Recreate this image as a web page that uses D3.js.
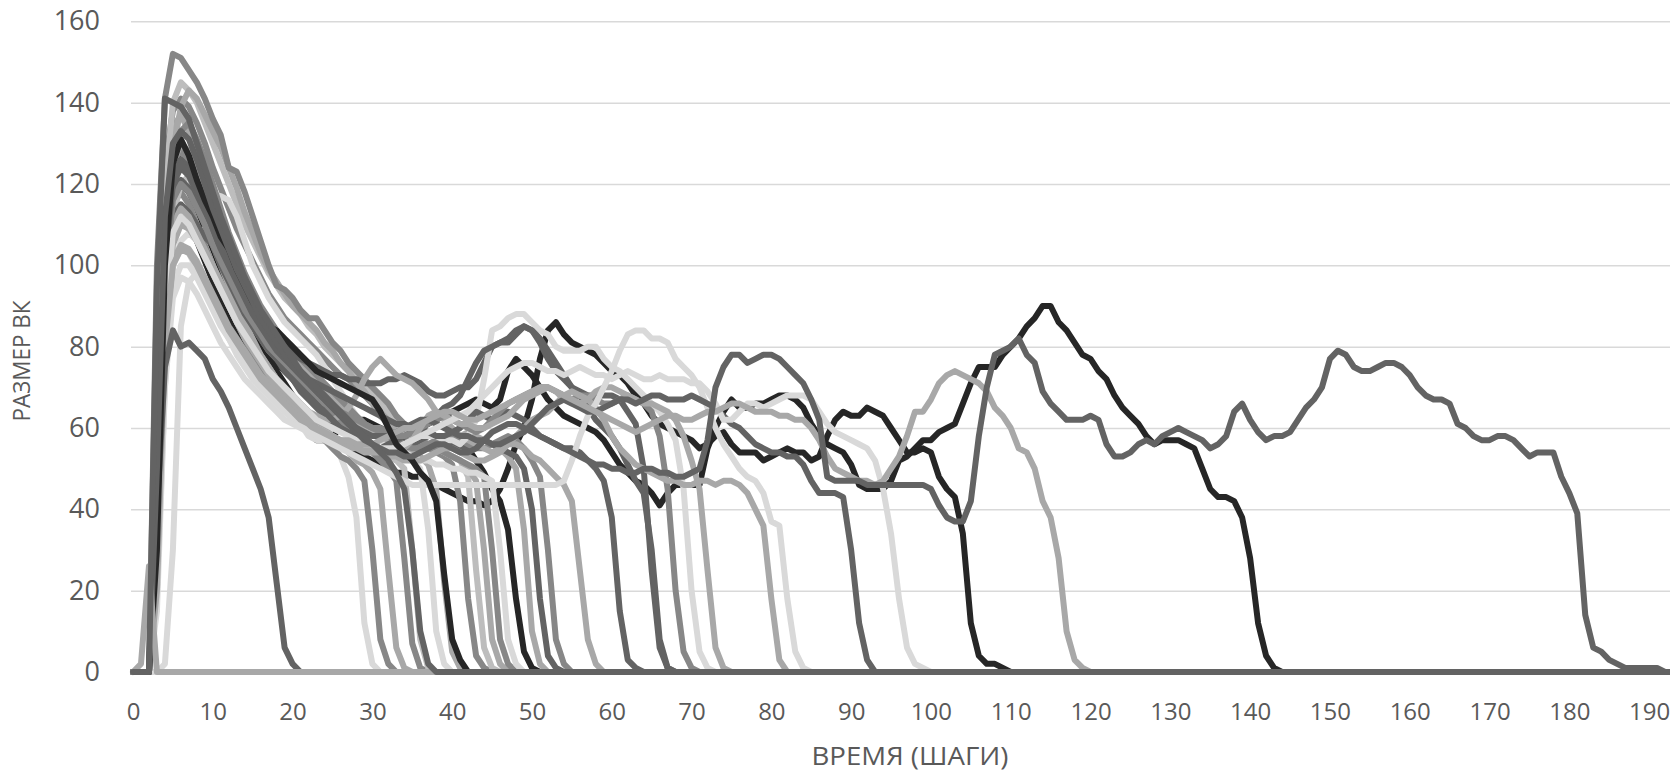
<!DOCTYPE html>
<html>
<head>
<meta charset="utf-8">
<script src="https://cdn.jsdelivr.net/npm/d3@7/dist/d3.min.js"></script>
<style>
  body { margin: 0; background: #fff; }
  svg { display: block; }
  text { font-family: "Open Sans", sans-serif; fill: #595959; }
</style>
</head>
<body>
<div id="chart"></div>
<script>
// tick labels
const yTickValues = [0, 20, 40, 60, 80, 100, 120, 140, 160];
const xTickValues = [0, 10, 20, 30, 40, 50, 60, 70, 80, 90, 100, 110, 120, 130, 140, 150, 160, 170, 180, 190];
const lastStep = 195; // every run sits at 0 until here

// one value per step, starting at step 0
const s01 = [0,0,0,40,75,84,80,81,79,77,72,69,65,60,55,50,45,38,22,6,2,0];
const s02 = [0,0,0,30,80,100,104,103,99,95,91,87,83,79,76,73,71,68,66,64,63,61,58,57,57,56,53,48,38,12,2,0];
const s03 = [0,0,0,40,95,115,118,115,110,105,100,95,90,86,82,78,75,72,69,67,65,63,61,59,57,55,53,52,50,47,30,8,2,0];
const s04 = [0,0,0,35,100,121,125,122,117,111,105,100,95,90,86,82,78,75,72,70,68,66,64,62,60,58,56,54,52,51,49,45,25,6,1,0];
const s05 = [0,0,0,50,110,126,128,125,119,113,107,102,97,93,89,85,82,79,77,75,73,71,69,67,65,63,61,59,57,55,54,52,50,47,28,7,1,0];
const s06 = [0,0,0,20,80,112,120,122,118,113,108,103,99,95,91,88,85,82,79,77,75,73,71,69,68,66,64,62,60,58,56,55,53,52,50,30,8,1,0];
const s07 = [0,0,0,0,2,30,85,96,98,94,90,86,82,78,75,72,70,68,66,64,62,61,60,59,58,58,57,57,56,56,55,55,54,54,53,52,50,35,10,2,0];
const s08 = [0,0,0,60,120,134,137,133,127,121,115,109,104,99,95,91,88,85,82,80,78,76,74,72,70,68,66,64,62,60,59,58,57,56,55,54,53,51,45,22,5,1,0];
const s09 = [0,0,0,30,100,125,131,127,121,116,112,107,104,99,95,91,88,85,84,82,80,78,76,74,73,72,71,70,69,68,67,64,60,56,54,52,49,47,42,24,8,3,0];
const s10 = [0,0,0,55,125,138,141,139,135,130,124,119,114,109,105,101,97,93,90,87,85,83,81,79,77,75,73,72,70,68,66,63,61,59,58,57,56,55,54,53,51,42,18,4,1,0];
const s11 = [0,0,0,45,118,140,145,143,140,135,130,125,120,115,110,106,102,98,95,92,90,88,85,83,80,78,76,74,72,70,68,66,64,62,60,58,57,56,55,54,53,52,48,25,6,1,0];
const s12 = [0,0,0,20,92,128,139,143,141,137,133,129,124,119,113,108,103,99,96,93,90,88,86,84,81,79,76,74,71,69,66,64,62,60,59,58,57,56,55,54,53,52,50,47,30,8,2,0];
const s13 = [0,0,0,100,141,152,151,148,145,141,136,132,124,123,118,112,106,100,95,94,92,89,87,87,84,81,79,76,74,72,70,68,66,63,61,59,57,56,55,54,53,52,51,50,48,30,8,2,0];
const s14 = [0,0,0,20,70,100,106,108,106,109,114,117,116,112,106,100,96,92,89,86,84,82,80,78,75,72,69,66,63,61,59,57,56,55,54,53,52,52,51,51,50,50,49,49,48,47,30,8,2,0];
const s15 = [0,0,0,40,95,110,112,110,106,101,96,91,87,83,79,76,73,71,69,67,65,61,59,57,57,58,60,61,62,62,61,60,59,58,57,57,58,59,58,57,57,56,55,52,49,45,42,35,18,5,1,0];
const s16 = [0,0,0,30,100,125,130,128,123,117,111,106,101,97,93,89,86,83,80,78,76,74,72,70,68,66,64,62,61,60,59,58,57,57,56,56,57,58,58,57,57,58,59,58,57,56,55,53,50,35,10,2,0];
const s17 = [0,0,0,40,95,112,115,113,110,107,105,102,99,96,92,88,84,81,78,75,72,69,67,65,63,61,60,59,58,57,56,55,54,54,55,56,57,58,58,57,56,55,55,56,57,56,55,54,53,50,40,18,4,1,0];
const s18 = [0,0,0,40,105,128,133,135,131,126,120,114,108,103,98,94,90,87,84,81,79,77,75,73,71,69,67,65,63,61,60,59,58,57,56,55,55,56,57,58,58,57,56,55,55,56,57,58,57,55,52,48,30,8,2,0];
const s19 = [0,0,0,45,105,122,126,124,120,115,110,105,101,97,93,90,87,84,82,80,78,77,76,75,74,73,73,72,72,71,71,71,72,72,73,72,71,69,68,68,69,70,70,72,76,80,81,81,83,85,84,81,77,74,72,70,69,68,68,68,68,67,64,61,50,25,6,1,0];
const s20 = [0,0,0,30,90,110,114,112,108,104,100,96,92,88,84,81,78,75,72,70,68,66,64,63,62,62,63,65,68,72,75,77,75,73,72,71,69,67,64,62,60,58,57,56,55,54,55,56,56,55,53,52,50,48,46,42,25,8,2,0];
const s21 = [0,0,0,20,75,95,100,100,97,93,89,85,82,79,76,73,71,69,67,65,63,62,61,60,59,58,57,56,56,55,55,55,55,55,56,57,58,58,58,57,57,56,58,62,72,84,85,87,88,88,86,84,83,80,79,79,79,80,80,77,75,74,72,70,68,66,64,61,57,45,20,5,1,0];
const s22 = [0,0,0,35,100,118,121,119,115,110,105,100,96,92,88,85,82,79,77,74,72,70,68,66,64,62,60,58,57,56,55,55,56,57,58,59,60,59,58,58,59,60,62,64,63,62,63,64,63,62,60,58,57,56,55,55,54,52,50,47,38,15,3,1,0];
const s23 = [0,0,0,40,100,120,124,122,118,113,108,103,99,95,91,88,85,82,80,78,76,74,72,71,70,69,68,67,66,65,64,63,62,61,61,60,60,61,63,65,66,68,72,76,79,80,81,82,84,85,84,82,79,76,73,70,68,65,62,60,58,55,51,47,44,30,8,1,0];
const s24 = [0,0,0,30,95,116,120,118,114,110,105,101,97,93,89,86,83,80,78,76,74,72,70,68,66,65,64,63,62,61,60,60,59,58,58,59,60,61,62,63,62,61,60,59,60,62,64,66,67,68,69,70,70,69,68,67,68,68,67,66,66,67,68,67,66,64,58,45,20,5,1,0];
const s25 = [0,0,0,25,85,105,110,109,106,102,98,94,90,86,82,79,76,73,70,68,66,64,62,60,59,58,57,56,56,55,55,55,54,54,55,57,60,63,64,63,62,61,61,60,60,61,62,63,65,67,68,69,70,69,67,66,66,67,69,70,70,69,68,67,66,66,65,64,62,58,52,45,25,6,1,0];
const s26 = [0,0,0,20,80,101,105,104,101,97,93,89,85,82,79,76,73,71,69,67,65,63,61,59,58,57,56,55,55,54,54,54,53,53,52,52,52,53,54,55,55,54,53,52,52,53,54,56,58,60,62,63,64,66,68,69,68,67,65,62,58,55,53,51,50,49,48,47,47,46,46,47,47,46,47,47,46,44,40,36,18,3,0];
const s27 = [0,0,0,15,70,92,97,96,93,89,85,81,78,75,72,70,68,66,64,62,61,60,59,58,57,56,55,54,53,52,51,50,49,48,47,
  46,46,46,46,46,46,46,46,46,46,46,46,46,46,46,46,46,46,46,
  47,52,58,63,66,70,74,79,83,84,84,82,82,81,77,75,73,70,65,60,56,53,50,48,47,44,37,36,18,5,1,0];
const s28 = [0,0,0,35,100,120,125,123,119,114,109,104,100,96,92,88,85,82,79,77,75,73,71,69,67,65,63,61,60,59,58,58,58,59,60,61,62,62,61,60,59,58,58,57,57,56,56,57,58,59,61,63,65,66,67,66,65,64,64,65,66,67,67,66,67,68,68,67,67,67,68,67,66,65,63,61,60,58,56,55,54,54,53,53,51,47,44,44,44,43,30,12,3,0];
const s29 = [0,0,0,25,85,108,112,110,106,102,98,94,90,86,83,80,77,74,72,70,68,66,64,62,61,60,59,58,57,56,56,55,55,55,56,57,58,59,60,61,62,63,64,66,68,70,72,74,75,76,76,75,74,74,73,74,75,74,73,73,72,73,74,73,72,72,73,72,72,72,71,71,69,66,62,62,64,66,66,65,66,67,68,68,68,67,64,61,59,58,57,56,55,52,45,34,18,6,2,1,0];
const s30 = [0,0,0,20,80,100,104,103,100,96,92,88,84,81,78,75,72,70,68,66,64,62,61,60,59,58,57,57,56,56,56,57,58,59,60,60,61,62,63,64,64,63,62,62,63,64,65,66,67,68,69,70,70,69,68,67,66,65,64,63,62,61,60,59,60,61,62,63,63,62,62,63,64,64,65,66,66,65,64,64,64,63,63,62,62,60,57,53,50,49,48,47,47,46,47,50,53,58,64,64,67,71,73,74,73,72,71,69,65,63,60,55,54,50,42,38,28,10,3,1,0];
const s31 = [0,0,0,35,105,124,127,124,119,113,107,102,97,92,88,84,80,77,74,71,68,65,62,60,58,57,56,55,54,53,52,51,50,49,49,48,48,47,46,45,44,43,42,42,41,42,45,50,56,60,67,77,84,86,83,81,80,79,78,76,74,73,71,68,66,63,61,60,59,58,57,55,56,58,59,56,54,54,54,52,53,54,55,54,54,52,53,58,62,64,63,63,65,64,63,60,57,54,54,55,54,48,45,43,34,12,4,2,2,1,0];
const s32 = [0,0,0,30,95,117,120,118,114,109,104,99,95,91,87,84,81,78,76,74,72,70,68,66,64,63,62,61,60,60,60,59,58,58,58,59,60,61,62,63,64,65,66,67,66,65,67,74,77,75,73,70,67,65,63,62,61,60,59,57,54,51,49,47,46,44,41,44,46,46,46,46,55,60,64,67,65,65,66,66,67,68,68,67,65,61,58,56,55,54,51,46,45,45,45,47,52,53,55,57,57,59,60,61,66,71,75,75,75,78,80,82,85,87,90,90,86,84,81,78,77,74,72,68,65,63,61,58,56,57,57,57,56,55,50,45,43,43,42,38,28,12,4,1,0];
const s33 = [0,0,0,50,112,130,133,131,126,120,114,109,104,99,95,91,87,84,81,78,75,73,71,69,67,65,63,61,59,57,56,55,54,54,53,53,54,55,56,56,55,54,54,55,57,59,60,61,61,60,59,58,57,56,55,54,53,52,51,51,50,50,49,49,50,50,49,49,48,48,49,50,57,70,75,78,78,76,77,78,78,77,75,73,71,67,62,48,47,47,47,47,46,46,46,46,46,46,46,46,45,41,38,37,37,42,58,70,78,79,80,82,78,76,69,66,64,62,62,62,63,62,56,53,53,54,56,57,56,58,59,60,59,58,57,55,56,58,64,66,62,59,57,58,58,59,62,65,67,70,77,79,78,75,74,74,75,76,76,75,73,70,68,67,67,66,61,60,58,57,57,58,58,57,55,53,54,54,54,48,44,39,14,6,5,3,2,1,1,1,1,1,0];
const s34 = [0,2,26,0];
const s35 = [0,0,0,95,141,140,139,136,130,124,118,112,107,102,97,93,89,86,83,80,77,74,72,70,68,66,64,62,60,58,56,54,52,49,45,30,10,2,0];

// draw order (later on top) and colours
const seriesList = [s15, s31, s32, s02, s03, s04, s05, s06, s07, s08, s10, s11, s12, s13, s14, s16, s17, s18,
  s19, s20, s21, s22, s23, s24, s25, s26, s27, s28, s29, s30, s01, s09, s33, s34, s35];
const seriesColors = ['#262626', '#262626', '#262626',
  '#d9d9d9', '#878787', '#a8a8a8', '#878787', '#bdbdbd', '#d9d9d9', '#a8a8a8', '#878787', '#bdbdbd', '#a8a8a8', '#878787', '#d9d9d9', '#a8a8a8', '#636363', '#878787',
  '#636363', '#a8a8a8', '#d9d9d9', '#636363', '#636363', '#878787', '#a8a8a8', '#a8a8a8', '#d9d9d9', '#636363', '#d9d9d9', '#a8a8a8', '#636363', '#262626', '#636363', '#a8a8a8', '#636363'];

const width = 1670, height = 774;
const svg = d3.select('#chart').append('svg')
    .attr('width', width)
    .attr('height', height);

const x = d3.scaleLinear().domain([0, lastStep]).range([133, 1689]);
const y = d3.scaleLinear().domain([0, 160]).range([672, 21.3]);

// horizontal gridlines + y labels
const yAxis = svg.append('g')
    .attr('transform', 'translate(131,0)')
    .call(d3.axisLeft(y).tickValues(yTickValues).tickSize(-(width - 131)).tickPadding(31));
yAxis.select('.domain').remove();
yAxis.selectAll('line').attr('stroke', '#d9d9d9').attr('stroke-width', 1.5);
yAxis.selectAll('text').style('font-size', '27px').attr('fill', '#595959');

// x labels
const xAxis = svg.append('g')
    .attr('transform', 'translate(0,672)')
    .call(d3.axisBottom(x).tickValues(xTickValues).tickSize(0).tickPadding(30));
xAxis.select('.domain').remove();
xAxis.selectAll('text')
    .style('font-size', '24px')
    .attr('fill', '#595959')
    .attr('y', 31)
    .attr('dy', '0.71em');

// the runs
const line = d3.line()
    .x(d => x(d[0]))
    .y(d => y(d[1]));

seriesList.forEach((values, i) => {
    const pts = values.map((v, t) => [t, v]);
    pts.push([lastStep, 0]);
    svg.append('path')
        .attr('d', line(pts))
        .attr('fill', 'none')
        .attr('stroke', seriesColors[i])
        .attr('stroke-width', 6)
        .attr('stroke-linejoin', 'round')
        .attr('stroke-linecap', 'round');
});

// axis titles
svg.append('text')
    .attr('x', 910)
    .attr('y', 758)
    .attr('text-anchor', 'middle')
    .attr('dominant-baseline', 'middle')
    .attr('textLength', 197)
    .attr('lengthAdjust', 'spacingAndGlyphs')
    .style('font-size', '26px')
    .text('ВРЕМЯ (ШАГИ)');

svg.append('text')
    .attr('transform', 'translate(24,361) rotate(-90)')
    .attr('text-anchor', 'middle')
    .attr('dominant-baseline', 'middle')
    .attr('textLength', 121)
    .attr('lengthAdjust', 'spacingAndGlyphs')
    .style('font-size', '24px')
    .text('РАЗМЕР ВК');
</script>
</body>
</html>
